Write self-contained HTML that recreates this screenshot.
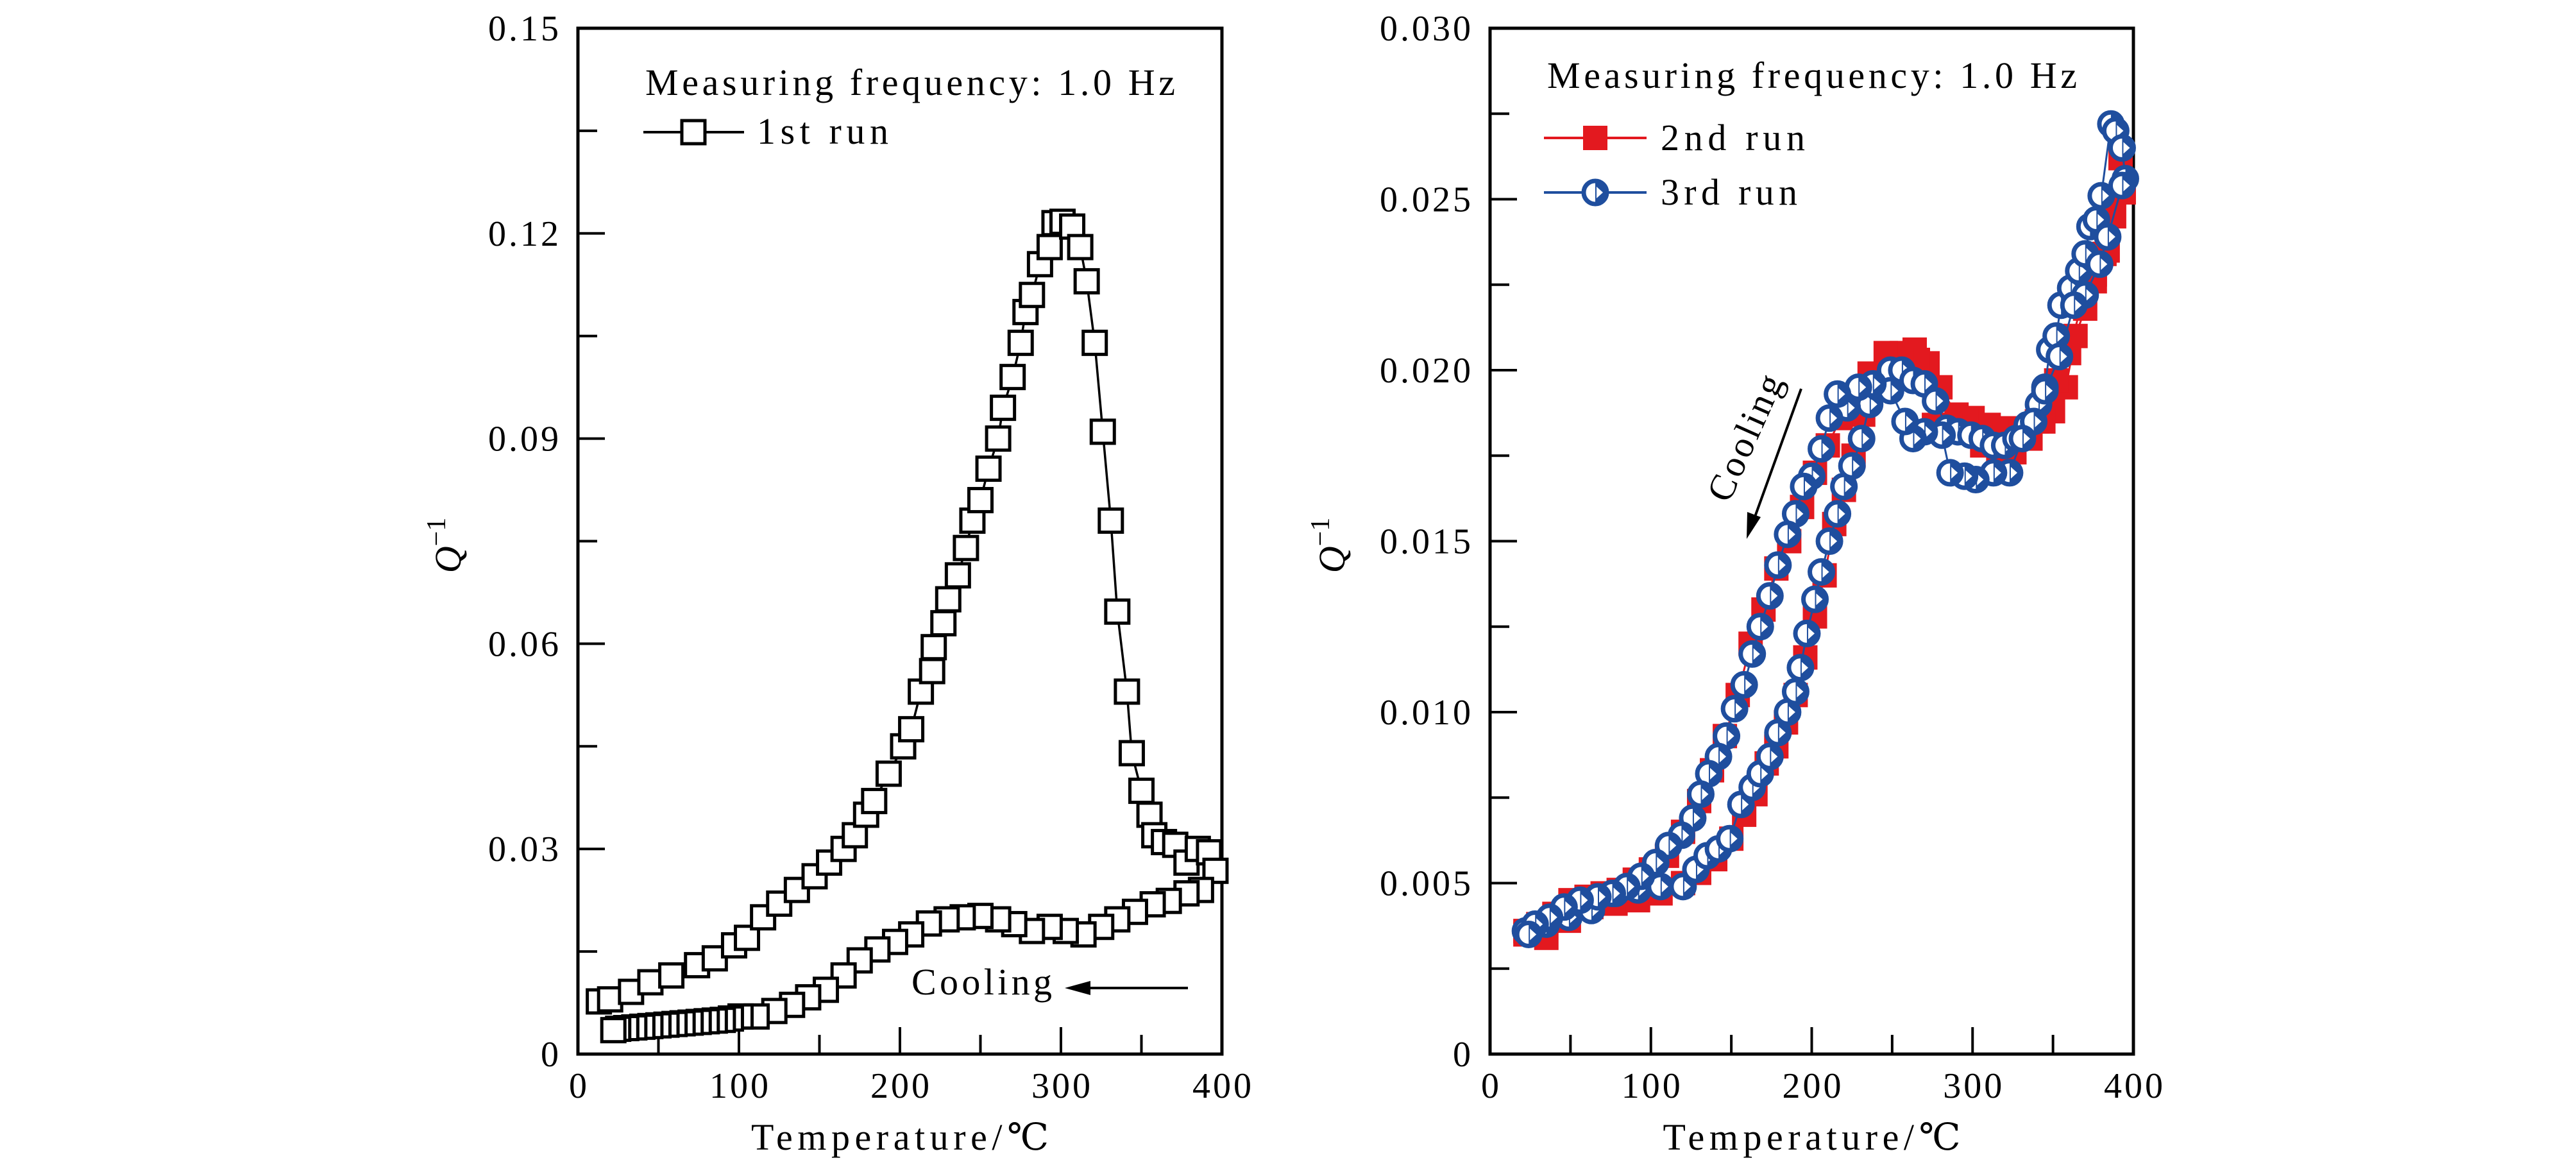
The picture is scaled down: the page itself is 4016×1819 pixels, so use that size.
<!DOCTYPE html>
<html><head><meta charset="utf-8"><style>
html,body{margin:0;padding:0;background:#fff;}
svg{display:block;font-family:"Liberation Serif","DejaVu Serif",serif;}
</style></head><body>
<svg id="fig" width="4016" height="1819" viewBox="0 0 4016 1819" xmlns="http://www.w3.org/2000/svg"></svg>
<script>
// ---- Left panel data (1st run) ----
const run1T = [13,20,33,45,58,74,85,97,105,115,125,136,147,156,165,172,179,184,193,202,207,213,220,221,227,230,236,241,245,250,255,261,264,270,275,278,282,287,293,296,301,307,312,316,321,326,331,335,341,344,350,355,358,364,371,378,385,392,
 396,387,378,367,357,346,335,325,314,303,293,282,271,261,250,239,229,218,207,197,186,175,165,154,143,133,122,111,101,95,90,85,80,75,70,65,60,55,50,45,40,35,30,25,22];
const run1Q = [0.0077,0.0080,0.0091,0.0105,0.0115,0.0130,0.0140,0.0159,0.0170,0.0200,0.0220,0.0240,0.0260,0.0280,0.0300,0.0320,0.0350,0.0370,0.0410,0.0450,0.0475,0.0530,0.0560,0.0595,0.0630,0.0665,0.0700,0.0740,0.0780,0.0810,0.0856,0.0900,0.0945,0.0990,0.1040,0.1085,0.1110,0.1155,0.1180,0.1215,0.1217,0.1210,0.1180,0.1130,0.1040,0.0910,0.0780,0.0647,0.0530,0.0440,0.0385,0.0350,0.0320,0.0310,0.0306,0.0280,0.0300,0.0295,
 0.0268,0.0240,0.0235,0.0224,0.0219,0.0208,0.0197,0.0186,0.0175,0.0180,0.0186,0.0180,0.0190,0.0197,0.0202,0.0200,0.0197,0.0191,0.0175,0.0164,0.0153,0.0137,0.0115,0.0094,0.0083,0.0072,0.0063,0.0055,0.0055,0.0052,0.0050,0.0049,0.0048,0.0047,0.0046,0.0045,0.0044,0.0043,0.0042,0.0041,0.0040,0.0039,0.0038,0.0037,0.0035];
const leftXTicks = [0,100,200,300,400];
const leftYTicks = [0,0.03,0.06,0.09,0.12,0.15];
const leftYLabels = ["0","0.03","0.06","0.09","0.12","0.15"];

// ---- Right panel data (3rd run, blue) ----
const run3T = [22,35,49,63,78,92,106,120,128,135,142,149,156,163,168,174,179,185,190,193,197,202,206,211,216,220,225,231,236,241,249,256,263,270,277,284,291,299,306,313,320,327,334,341,345,348,352,355,361,366,370,373,377,380,386,389,393,395,
 393,384,379,370,363,354,345,338,331,323,313,302,295,286,281,270,263,258,249,238,229,222,216,211,206,200,195,190,185,179,174,168,163,158,152,147,142,136,131,126,119,111,103,94,85,76,67,56,46,37,28,24];
const run3Q = [0.0036,0.0038,0.0040,0.0042,0.0047,0.0048,0.0049,0.0049,0.0054,0.0058,0.0060,0.0063,0.0073,0.0078,0.0082,0.0087,0.0094,0.0100,0.0106,0.0113,0.0123,0.0133,0.0141,0.0150,0.0158,0.0166,0.0172,0.0180,0.0190,0.0195,0.0200,0.0200,0.0197,0.0196,0.0191,0.0183,0.0182,0.0181,0.0180,0.0178,0.0178,0.0180,0.0184,0.0190,0.0195,0.0206,0.0210,0.0219,0.0224,0.0229,0.0234,0.0242,0.0244,0.0251,0.0272,0.0270,0.0265,0.0256,
 0.0254,0.0239,0.0231,0.0222,0.0219,0.0204,0.0194,0.0185,0.0180,0.0170,0.0170,0.0168,0.0169,0.0170,0.0181,0.0182,0.0180,0.0185,0.0194,0.0196,0.0195,0.0189,0.0193,0.0186,0.0177,0.0169,0.0166,0.0158,0.0152,0.0143,0.0134,0.0125,0.0117,0.0108,0.0101,0.0093,0.0087,0.0082,0.0076,0.0069,0.0064,0.0061,0.0056,0.0052,0.0049,0.0047,0.0046,0.0045,0.0043,0.0040,0.0038,0.0035];
// ---- 2nd run (red) ----
const run2T = [22,35,49,63,78,92,106,120,130,140,150,158,165,172,178,184,190,196,202,208,214,220,226,232,240,248,256,264,272,280,290,300,310,320,330,340,350,358,364,370,376,382,388,394,
 392,384,376,368,360,352,344,336,326,316,306,296,286,276,266,256,246,236,226,218,210,202,194,186,178,170,162,154,146,138,130,120,110,100,90,80,70,60,50,40,30,22];
const run2Q = [0.0035,0.0034,0.0039,0.0043,0.0044,0.0045,0.0047,0.0050,0.0053,0.0057,0.0063,0.0070,0.0076,0.0085,0.0090,0.0097,0.0105,0.0116,0.0128,0.0140,0.0155,0.0165,0.0175,0.0187,0.0195,0.0203,0.0205,0.0206,0.0202,0.0195,0.0187,0.0186,0.0184,0.0183,0.0182,0.0185,0.0188,0.0195,0.0210,0.0218,0.0226,0.0234,0.0245,0.0252,
 0.0262,0.0235,0.0228,0.0220,0.0205,0.0197,0.0185,0.0180,0.0176,0.0172,0.0178,0.0185,0.0184,0.0184,0.0203,0.0203,0.0205,0.0199,0.0192,0.0186,0.0178,0.0170,0.0160,0.0150,0.0142,0.0130,0.0120,0.0105,0.0093,0.0083,0.0074,0.0065,0.0058,0.0054,0.0051,0.0048,0.0047,0.0046,0.0045,0.0041,0.0038,0.0036];
const rightXTicks = [0,100,200,300,400];
const rightYTicks = [0,0.005,0.010,0.015,0.020,0.025,0.030];
const rightYLabels = ["0","0.005","0.010","0.015","0.020","0.025","0.030"];

const NS = "http://www.w3.org/2000/svg";
const svg = document.getElementById('fig');
function mk(tag, attrs, parent, text){
  const e = document.createElementNS(NS, tag);
  for (const k in attrs) e.setAttribute(k, attrs[k]);
  if (text !== undefined) e.textContent = text;
  (parent||svg).appendChild(e);
  return e;
}
const TOP=44, BOT=1643;

function axes(g, L, R, yMax, xTicks, yTicks, yLabels, yMinorStep, prefix){
  const sx = v => L + (v/400)*(R-L);
  const sy = v => BOT - (v/yMax)*(BOT-TOP);
  const frame = mk('rect',{x:L,y:TOP,width:R-L,height:BOT-TOP,fill:'none',stroke:'#000','stroke-width':5},g);
  
  
  for (let v=0; v<=400; v+=50){
    const len = (v%100===0)?42:30;
    const t = mk('line',{x1:sx(v),x2:sx(v),y1:BOT,y2:BOT-len,stroke:'#000','stroke-width':4},g);
    
    
  }
  xTicks.forEach(v=>{
    const t = mk('text',{x:sx(v)+2,y:BOT+68,'font-size':56,'letter-spacing':4,'text-anchor':'middle'},g,String(v));
    
    
  });
  for (let v=0; v<=yMax+1e-9; v+=yMinorStep){
    const major = yTicks.some(t=>Math.abs(t-v)<1e-9);
    const t = mk('line',{x1:L,x2:L+(major?42:30),y1:sy(v),y2:sy(v),stroke:'#000','stroke-width':4},g);
    
    
  }
  yTicks.forEach((v,i)=>{
    const t = mk('text',{x:L-26,y:sy(v)+19,'font-size':56,'letter-spacing':4,'text-anchor':'end'},g,yLabels[i]);
    
    
  });
  const xt = mk('text',{x:(L+R)/2-232,y:1792,'font-size':58,textLength:464,lengthAdjust:'spacing'},g,'Temperature/℃');
  
  
  return {sx, sy};
}

function square(g, cx, cy, filled, color){
  const s = filled?38:36;
  return mk('rect',{x:cx-s/2,y:cy-s/2,width:s,height:s,fill:filled?color:'#fff',stroke:color,'stroke-width':filled?0:5},g);
}
function halfCircle(g, cx, cy){
  const r=18;
  const grp = mk('g',{},g);
  mk('circle',{cx:cx,cy:cy,r:r,fill:'#fff',stroke:'#1f4e9e','stroke-width':7},grp);
  mk('path',{d:`M${cx},${cy-r} A${r},${r} 0 0 1 ${cx},${cy+r} Z`,fill:'#1f4e9e'},grp);
  mk('path',{d:`M${cx+2},${cy-9} L${cx+12},${cy} L${cx+2},${cy+9} Z`,fill:'#fff'},grp);
  return grp;
}

// ===== Left panel =====
const gL = mk('g',{});  
const A = axes(gL, 901, 1905, 0.15, leftXTicks, leftYTicks, leftYLabels, 0.015, 'left');
const yl = mk('text',{x:0,y:0,'font-size':58,'font-style':'italic',transform:'translate(718,850) rotate(-90)','text-anchor':'middle'},gL);
 
yl.innerHTML = 'Q<tspan dy="-24" font-size="42" font-style="normal">−1</tspan>';
const l1pts = run1T.map((t,i)=>A.sx(t)+','+A.sy(run1Q[i])).join(' ');
const l1 = mk('polyline',{points:l1pts,fill:'none',stroke:'#000','stroke-width':3.5},gL);
 
run1T.forEach((t,i)=>{
  const m = square(gL, A.sx(t), A.sy(run1Q[i]), false, '#000');
  
  
});
const lt = mk('text',{x:1006,y:148,'font-size':58,textLength:826,lengthAdjust:'spacing'},gL,'Measuring frequency: 1.0 Hz');
 
const leg1 = mk('g',{},gL);  
mk('line',{x1:1003,x2:1160,y1:206,y2:206,stroke:'#000','stroke-width':4},leg1);
square(leg1,1081,206,false,'#000');
mk('text',{x:1180,y:224,'font-size':58,textLength:205,lengthAdjust:'spacing'},leg1,'1st run');
const cl = mk('g',{},gL);  
mk('text',{x:1421,y:1550,'font-size':58,textLength:219,lengthAdjust:'spacing'},cl,'Cooling');
mk('line',{x1:1852,x2:1690,y1:1540,y2:1540,stroke:'#000','stroke-width':4},cl);
mk('path',{d:'M1660,1540 L1700,1529 L1700,1551 Z',fill:'#000'},cl);

// ===== Right panel =====
const gR = mk('g',{});  
const B = axes(gR, 2323, 3326, 0.030, rightXTicks, rightYTicks, rightYLabels, 0.0025, 'right');
const yr = mk('text',{x:0,y:0,'font-size':58,'font-style':'italic',transform:'translate(2096,850) rotate(-90)','text-anchor':'middle'},gR);
 
yr.innerHTML = 'Q<tspan dy="-24" font-size="42" font-style="normal">−1</tspan>';
const r2 = mk('polyline',{points:run2T.map((t,i)=>B.sx(t)+','+B.sy(run2Q[i])).join(' '),fill:'none',stroke:'#e3191f','stroke-width':3},gR);
 
run2T.forEach((t,i)=>{
  const m = square(gR, B.sx(t), B.sy(run2Q[i]), true, '#e3191f');
  
  
});
const r3 = mk('polyline',{points:run3T.map((t,i)=>B.sx(t)+','+B.sy(run3Q[i])).join(' '),fill:'none',stroke:'#1f4e9e','stroke-width':3},gR);
 
run3T.forEach((t,i)=>{
  const m = halfCircle(gR, B.sx(t), B.sy(run3Q[i]));
  
  
});
const rt = mk('text',{x:2412,y:137,'font-size':58,textLength:826,lengthAdjust:'spacing'},gR,'Measuring frequency: 1.0 Hz');
 
const leg2 = mk('g',{},gR);  
mk('line',{x1:2407,x2:2567,y1:215,y2:215,stroke:'#e3191f','stroke-width':4},leg2);
square(leg2,2487,215,true,'#e3191f');
mk('text',{x:2589,y:234,'font-size':58,textLength:225,lengthAdjust:'spacing'},leg2,'2nd run');
const leg3 = mk('g',{},gR);  
mk('line',{x1:2407,x2:2567,y1:300,y2:300,stroke:'#1f4e9e','stroke-width':4},leg3);
halfCircle(leg3,2487,300);
mk('text',{x:2589,y:319,'font-size':58,textLength:213,lengthAdjust:'spacing'},leg3,'3rd run');
const cr = mk('g',{},gR);  
mk('text',{x:0,y:0,'font-size':58,'text-anchor':'middle',textLength:210,lengthAdjust:'spacing',transform:'translate(2738,690) rotate(-66)'},cr,'Cooling');
mk('line',{x1:2808,x2:2735,y1:606,y2:808,stroke:'#000','stroke-width':4},cr);
mk('path',{d:'M2723,840 L2724,798 L2745,806 Z',fill:'#000'},cr);
</script>
</body></html>
